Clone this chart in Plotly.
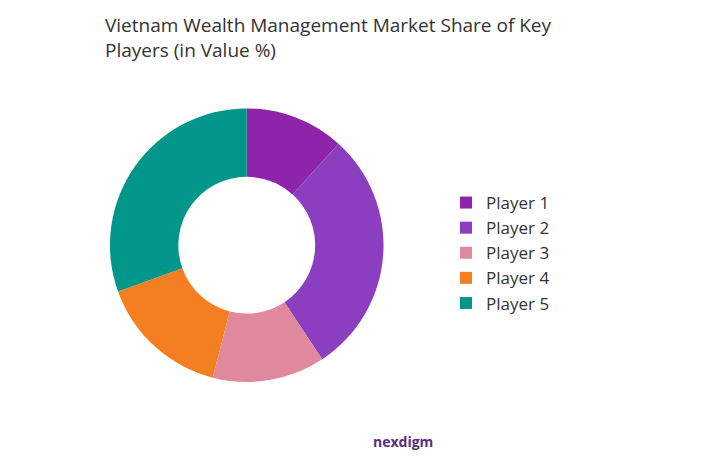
import plotly.graph_objects as go

labels = ["Player 1", "Player 2", "Player 3", "Player 4", "Player 5"]
values = [11.7, 29.0, 13.3, 15.5, 30.5]
colors = ["#8E24AA", "#8B3FC0", "#E0899C", "#F37F22", "#00968A"]

fig = go.Figure(go.Pie(
    labels=labels, values=values, hole=0.5, sort=False, direction="clockwise",
    rotation=0, marker=dict(colors=colors), textinfo="none", hoverinfo="label+percent",
    domain=dict(x=[0.142, 0.523], y=[0.197, 0.785]),
))
fig.update_layout(
    width=718, height=466, margin=dict(l=0, r=0, t=0, b=0),
    paper_bgcolor="white", plot_bgcolor="white",
    font=dict(family="Open Sans", color="#333333"),
    legend=dict(x=438/718, y=1-245/466, xanchor="left", yanchor="middle",
                font=dict(size=17, color="#333333"), tracegroupgap=0, itemwidth=30),
    annotations=[
        dict(text="Vietnam Wealth Management Market Share of Key<br>Players (in Value %)",
             x=95/718, y=1-2/466, xref="paper", yref="paper", xanchor="left", yanchor="top",
             align="left", showarrow=False, font=dict(size=19, color="#333333")),
        dict(text="<b>nexdigm</b>", x=395/718, y=1-445/466, xref="paper", yref="paper",
             showarrow=False, font=dict(size=14, color="#5A2D82"))],
)
fig.write_html("out.html")
